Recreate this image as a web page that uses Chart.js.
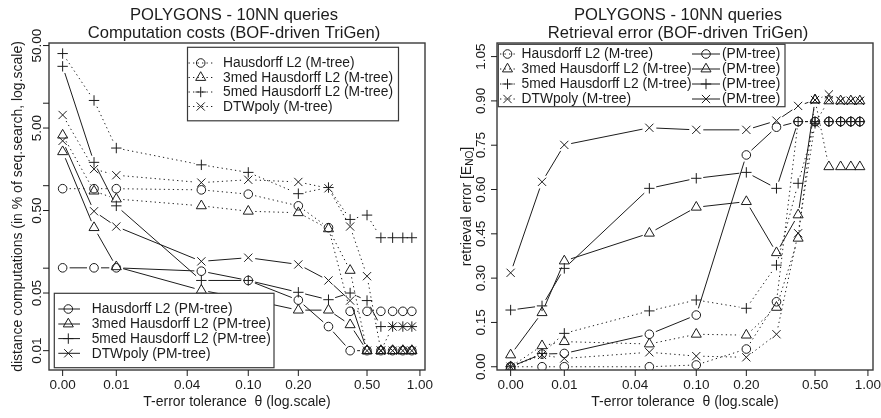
<!DOCTYPE html>
<html>
<head>
<meta charset="utf-8">
<script src="https://cdn.jsdelivr.net/npm/chart.js@4/dist/chart.umd.min.js"></script>
<style>
  html, body { margin: 0; padding: 0; background: #fff; }
  #wrap { position: relative; width: 881px; height: 418px; overflow: hidden; }
  #cost { position: absolute; left: 0; top: 0; }
  #err  { position: absolute; left: 440px; top: 0; }
</style>
</head>
<body>
<div id="wrap">
  <canvas id="cost" width="440" height="418"></canvas>
  <canvas id="err" width="441" height="418"></canvas>
</div>
<script>
// ---------- data ----------
const thetas = [0, 0.005, 0.01, 0.05, 0.1, 0.2, 0.3, 0.4, 0.5, 0.6, 0.7, 0.8, 0.9];
const thetaTicks = [0, 0.01, 0.04, 0.1, 0.2, 0.5, 1];
const thetaTickLabels = ['0.00', '0.01', '0.04', '0.10', '0.20', '0.50', '1.00'];

// distance computations, % of sequential search
const costHausM   = [0.92, 0.92, 0.92, 0.89, 0.79, 0.57, 0.31, 0.030, 0.030, 0.030, 0.030, 0.030, 0.030];
const cost3medM   = [4.1, 0.86, 0.69, 0.57, 0.49, 0.47, 0.30, 0.094, 0.01, 0.01, 0.01, 0.01, 0.01];
const cost5medM   = [40, 10.8, 2.86, 1.79, 1.45, 0.80, 0.95, 0.39, 0.44, 0.234, 0.234, 0.234, 0.234];
const costDtwM    = [7.2, 1.59, 1.34, 1.09, 1.18, 1.11, 0.93, 0.32, 0.080, 0.01, 0.0196, 0.0196, 0.0196];
const costHausPM  = [0.101, 0.101, 0.101, 0.092, 0.071, 0.041, 0.0196, 0.01, 0.01, 0.01, 0.01, 0.01, 0.01];
const cost3medPM  = [2.58, 0.31, 0.104, 0.054, 0.042, 0.031, 0.031, 0.0206, 0.01, 0.01, 0.01, 0.01, 0.01];
const cost5medPM  = [28, 1.92, 0.57, 0.071, 0.071, 0.051, 0.0415, 0.050, 0.0405, 0.0196, 0.0196, 0.0196, 0.0196];
const costDtwPM   = [3.5, 0.49, 0.32, 0.121, 0.134, 0.111, 0.071, 0.0405, 0.01, 0.01, 0.01, 0.01, 0.01];
const costTicks      = [0.01, 0.05, 0.1, 0.5, 1, 5, 10, 50];
const costTickLabels = ['0.01', '0.05', '', '0.50', '', '5.00', '', '50.00'];

// retrieval error E_NO
const errHausM   = [0, 0, 0, 0, 0.006, 0.06, 0.22, 0.83, 0.83, 0.83, 0.83, 0.83, 0.83];
const err3medM   = [0, 0.071, 0.085, 0.077, 0.11, 0.107, 0.201, 0.435, 0.903, 0.677, 0.677, 0.677, 0.677];
const err5medM   = [0, 0.045, 0.113, 0.189, 0.226, 0.198, 0.344, 0.621, 0.824, 0.83, 0.83, 0.83, 0.83];
const errDtwM    = [0, 0.04, 0.028, 0.049, 0.036, 0.032, 0.11, 0.452, 0.824, 0.903, 0.9, 0.9, 0.9];
const errHausPM  = [0, 0.043, 0.045, 0.11, 0.175, 0.717, 0.811, 0.83, 0.83, 0.83, 0.83, 0.83, 0.83];
const err3medPM  = [0.04, 0.183, 0.358, 0.452, 0.54, 0.559, 0.386, 0.514, 0.903, 0.9, 0.9, 0.9, 0.9];
const err5medPM  = [0.192, 0.206, 0.333, 0.604, 0.638, 0.658, 0.604, 0.83, 0.83, 0.83, 0.83, 0.83, 0.83];
const errDtwPM   = [0.318, 0.626, 0.751, 0.809, 0.802, 0.802, 0.833, 0.883, 0.903, 0.922, 0.9, 0.9, 0.9];
const errTicks      = [0, 0.15, 0.30, 0.45, 0.60, 0.75, 0.90, 1.05];
const errTickLabels = ['0.00', '0.15', '0.30', '0.45', '0.60', '0.75', '0.90', '1.05'];

const seriesNames = ['Hausdorff L2', '3med Hausdorff L2', '5med Hausdorff L2', 'DTWpoly'];
const costTitle = ['POLYGONS - 10NN queries', 'Computation costs (BOF-driven TriGen)'];
const errTitle  = ['POLYGONS - 10NN queries', 'Retrieval error (BOF-driven TriGen)'];
const xTitle = 'T-error tolerance  \u03b8 (log.scale)';
const costYTitle = 'distance computations (in % of seq.search, log.scale)';
const errYTitle = ['retrieval error [E', 'NO', ']'];

// ---------- styling ----------
const FONT = '"Liberation Sans", Arial, Helvetica, sans-serif';
const INK = '#1c1c1c';
const FRAME = '#3a3a3a';
const DOT = [1.3, 3.2];
const GAP = 7;          // gap left around each point by the connecting segments
const STYLES = ['circle', 'triangle', 'cross', 'crossRot'];
const RADII = { circle: 4.3, triangle: 5.8, cross: 5.2, crossRot: 5.8 };

// theta axis drawn as log10(theta + 0.01)
const tx = t => Math.log10(t + 0.01);
const X_MIN = -2.0765, X_MAX = 0.0328;

function makeDatasets(groups) {
  const out = [];
  groups.forEach(g => {
    g.values.forEach((vals, k) => {
      out.push({
        label: seriesNames[k] + (g.dotted ? ' (M-tree)' : ' (PM-tree)'),
        data: thetas.map((t, i) => ({ x: tx(t), y: vals[i] })),
        pointStyle: STYLES[k],
        pointRadius: RADII[STYLES[k]],
        pointBorderColor: INK,
        pointBackgroundColor: 'rgba(0,0,0,0)',
        pointBorderWidth: 1,
        borderDash: g.dotted ? DOT : [],
        showLine: false
      });
    });
  });
  return out;
}

function strokeLine(ctx, x1, y1, x2, y2) {
  ctx.beginPath(); ctx.moveTo(x1, y1); ctx.lineTo(x2, y2); ctx.stroke();
}

function drawPoint(ctx, style, x, y) {
  ctx.save();
  ctx.strokeStyle = INK; ctx.fillStyle = 'rgba(0,0,0,0)'; ctx.lineWidth = 1; ctx.setLineDash([]);
  Chart.helpers.drawPoint(ctx, { pointStyle: style, radius: RADII[style], rotation: 0, borderWidth: 1 }, x, y);
  ctx.restore();
}

// segments between consecutive points, with gaps around the symbols
function drawSegments(chart) {
  const ctx = chart.ctx, a = chart.chartArea;
  ctx.save();
  ctx.beginPath(); ctx.rect(a.left, a.top, a.right - a.left, a.bottom - a.top); ctx.clip();
  ctx.strokeStyle = INK; ctx.lineWidth = 1;
  chart.data.datasets.forEach((ds, i) => {
    const pts = chart.getDatasetMeta(i).data;
    ctx.setLineDash(ds.borderDash || []);
    for (let k = 0; k < pts.length - 1; k++) {
      const p = pts[k], q = pts[k + 1];
      const dx = q.x - p.x, dy = q.y - p.y, len = Math.hypot(dx, dy);
      if (len <= 2 * GAP) continue;
      const ux = dx / len, uy = dy / len;
      strokeLine(ctx, p.x + ux * GAP, p.y + uy * GAP, q.x - ux * GAP, q.y - uy * GAP);
    }
  });
  ctx.restore();
}

function drawLegend(chart, L) {
  const ctx = chart.ctx;
  ctx.save();
  ctx.fillStyle = '#fff';
  ctx.fillRect(L.box.x, L.box.y, L.box.w, L.box.h);
  ctx.strokeStyle = FRAME; ctx.lineWidth = 1.2; ctx.setLineDash([]);
  ctx.strokeRect(L.box.x, L.box.y, L.box.w, L.box.h);
  ctx.font = `${L.fontPx}px ${FONT}`;
  ctx.textAlign = 'left'; ctx.textBaseline = 'middle';
  L.columns.forEach(col => {
    col.datasets.forEach((di, r) => {
      const ds = chart.data.datasets[di];
      const y = L.rows[r];
      ctx.strokeStyle = INK; ctx.lineWidth = 1;
      ctx.setLineDash(ds.borderDash || []);
      strokeLine(ctx, col.x1, y, col.x2, y);
      ctx.setLineDash([]);
      drawPoint(ctx, ds.pointStyle, col.xm, y);
      ctx.fillStyle = INK;
      ctx.fillText(col.texts[r], col.textX, y + 0.5);
    });
  });
  ctx.restore();
}

function drawFrame(chart, o) {
  const ctx = chart.ctx, a = chart.chartArea;
  const xs = chart.scales.x, ys = chart.scales.y;
  ctx.save();
  ctx.setLineDash([]);
  ctx.strokeStyle = FRAME; ctx.lineWidth = 1.4;
  ctx.strokeRect(a.left, a.top, a.right - a.left, a.bottom - a.top);

  ctx.strokeStyle = INK; ctx.lineWidth = 1; ctx.fillStyle = INK;
  ctx.font = `${o.tickPx}px ${FONT}`;
  ctx.textAlign = 'center'; ctx.textBaseline = 'middle';
  thetaTicks.forEach((t, i) => {
    const px = xs.getPixelForValue(tx(t));
    strokeLine(ctx, px, a.bottom, px, a.bottom + 6);
    ctx.fillText(thetaTickLabels[i], px, a.bottom + 15.5);
  });
  o.yTicks.forEach((v, i) => {
    const py = ys.getPixelForValue(v);
    strokeLine(ctx, a.left - 6, py, a.left, py);
    if (o.yTickLabels[i]) {
      ctx.save(); ctx.translate(o.yLabelX, py); ctx.rotate(-Math.PI / 2);
      ctx.fillText(o.yTickLabels[i], 0, 0); ctx.restore();
    }
  });

  // axis titles
  ctx.font = `${o.axisPx}px ${FONT}`;
  ctx.fillText(xTitle, (a.left + a.right) / 2, o.xTitleY);
  const cy = (a.top + a.bottom) / 2;
  ctx.save(); ctx.translate(o.yTitleX, cy); ctx.rotate(-Math.PI / 2);
  if (Array.isArray(o.yTitle)) {
    const [pre, sub, post] = o.yTitle;
    const subFont = `${o.axisPx * 0.72}px ${FONT}`;
    const w1 = ctx.measureText(pre).width;
    ctx.font = subFont; const w2 = ctx.measureText(sub).width;
    ctx.font = `${o.axisPx}px ${FONT}`; const w3 = ctx.measureText(post).width;
    let x = -(w1 + w2 + w3) / 2;
    ctx.textAlign = 'left';
    ctx.fillText(pre, x, 0); x += w1;
    ctx.font = subFont; ctx.fillText(sub, x, 3.5); x += w2;
    ctx.font = `${o.axisPx}px ${FONT}`; ctx.fillText(post, x, 0);
  } else {
    ctx.fillText(o.yTitle, 0, 0);
  }
  ctx.restore();

  // main title
  ctx.font = `${o.titlePx}px ${FONT}`;
  ctx.textAlign = 'center'; ctx.textBaseline = 'alphabetic';
  o.title.forEach((line, i) => ctx.fillText(line, o.titleX, o.titleY[i]));
  ctx.restore();

  o.legends.forEach(L => drawLegend(chart, L));
}

const rFrame = {
  id: 'rFrame',
  beforeDatasetsDraw(chart, args, opts) { drawSegments(chart); },
  afterDatasetsDraw(chart, args, opts) { drawFrame(chart, opts); }
};

function buildChart(canvasId, datasets, yScale, padding, yAxisWidth, frame) {
  return new Chart(document.getElementById(canvasId), {
    type: 'scatter',
    data: { datasets },
    options: {
      responsive: false, animation: false, devicePixelRatio: 1, events: [],
      layout: { padding },
      plugins: { legend: { display: false }, title: { display: false }, tooltip: { enabled: false }, rFrame: frame },
      scales: {
        x: {
          type: 'linear', min: X_MIN, max: X_MAX, bounds: 'data',
          grid: { display: false }, border: { display: false }, ticks: { display: false },
          afterFit: s => { s.height = 48; }
        },
        y: Object.assign({
          bounds: 'data',
          grid: { display: false }, border: { display: false }, ticks: { display: false },
          afterFit: s => { s.width = yAxisWidth; }
        }, yScale)
      }
    },
    plugins: [rFrame]
  });
}

const common = { tickPx: 13.5, axisPx: 14, titlePx: 16.6, xTitleY: 402 };

// left: computation costs
buildChart('cost',
  makeDatasets([
    { dotted: true,  values: [costHausM, cost3medM, cost5medM, costDtwM] },
    { dotted: false, values: [costHausPM, cost3medPM, cost5medPM, costDtwPM] }
  ]),
  { type: 'logarithmic', min: 0.00583, max: 53.7 },
  { top: 43, right: 15, bottom: 0, left: 0 }, 49,
  Object.assign({}, common, {
    yTicks: costTicks, yTickLabels: costTickLabels, yLabelX: 37.5,
    yTitle: costYTitle, yTitleX: 18,
    title: costTitle, titleX: 234, titleY: [19.5, 38],
    legends: [
      { box: { x: 187.5, y: 47.3, w: 211, h: 73.5 }, rows: [63, 77.5, 92, 106.5], fontPx: 13.8,
        columns: [{ datasets: [0, 1, 2, 3], x1: 188.5, x2: 213, xm: 200.7, textX: 223,
                    texts: seriesNames.map(n => n + ' (M-tree)') }] },
      { box: { x: 54.3, y: 293.3, w: 219.7, h: 74.4 }, rows: [309, 324, 338.6, 353.3], fontPx: 13.8,
        columns: [{ datasets: [4, 5, 6, 7], x1: 58.3, x2: 80, xm: 68.3, textX: 91.7,
                    texts: seriesNames.map(n => n + ' (PM-tree)') }] }
    ]
  })
);

// right: retrieval error
buildChart('err',
  makeDatasets([
    { dotted: true,  values: [errHausM, err3medM, err5medM, errDtwM] },
    { dotted: false, values: [errHausPM, err3medPM, err5medPM, errDtwPM] }
  ]),
  { type: 'linear', min: -0.011, max: 1.096 },
  { top: 43, right: 8, bottom: 0, left: 0 }, 57,
  Object.assign({}, common, {
    yTicks: errTicks, yTickLabels: errTickLabels, yLabelX: 41.7,
    yTitle: errYTitle, yTitleX: 27,
    title: errTitle, titleX: 238, titleY: [19.5, 38],
    legends: [
      { box: { x: 58.3, y: 44.3, w: 286.7, h: 62.4 }, rows: [54, 69, 84, 99], fontPx: 13.8,
        columns: [
          { datasets: [0, 1, 2, 3], x1: 60, x2: 75, xm: 67.5, textX: 81.5,
            texts: seriesNames.map(n => n + ' (M-tree)') },
          { datasets: [4, 5, 6, 7], x1: 252, x2: 280, xm: 266, textX: 282,
            texts: ['(PM-tree)', '(PM-tree)', '(PM-tree)', '(PM-tree)'] }
        ] }
    ]
  })
);
</script>
</body>
</html>
